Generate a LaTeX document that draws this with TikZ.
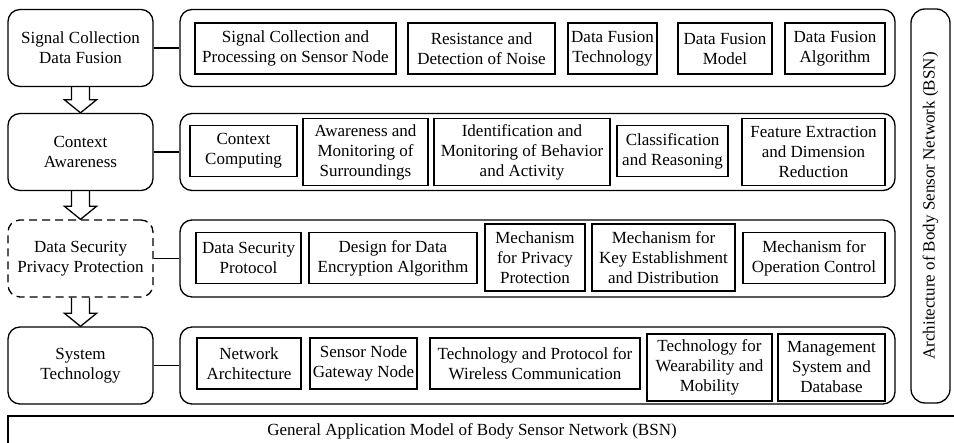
\documentclass[tikz,border=0pt]{standalone}
\usepackage{fontspec}
\setmainfont{Liberation Serif}
\usetikzlibrary{calc}

\tikzset{
    layer/.style={draw, rounded corners=12pt, line width=1.3pt, minimum width=145pt, minimum height=77pt, align=center},
    band/.style={draw, rounded corners=12pt, line width=1.3pt, minimum width=715pt, minimum height=77pt},
    topic/.style={draw, line width=1.1pt, minimum height=51pt, inner sep=2pt, align=center},
    tall/.style={minimum height=67pt},
    hollow/.style={line width=1.3pt, line join=miter},
}

\begin{document}
\begin{tikzpicture}[x=1pt, y=-1pt, font=\fontsize{17}{20}\selectfont]
    \useasboundingbox (0,0) rectangle (954,443);

    % Layers on the left
    \node[layer] (sig) at (80.5,48) {Signal Collection\\Data Fusion};
    \node[layer] (ctx) at (80.5,152) {Context\\Awareness};
    \node[layer, dash pattern=on 8pt off 5pt] (sec) at (80.5,258.5) {Data Security\\Privacy Protection};
    \node[layer] (sys) at (80.5,365.5) {System\\Technology};

    % Bands with the topics
    \node[band] (bandA) at (537.5,48) {};
    \node[band] (bandB) at (537.5,152) {};
    \node[band] (bandC) at (537.5,258.5) {};
    \node[band] (bandD) at (537.5,365.5) {};

    \foreach \l/\b in {sig/bandA, ctx/bandB, sec/bandC, sys/bandD} {
        \draw[line width=1.3pt] (\l.east) -- (\b.west);
    }

    % Hollow arrows between the layers
    \foreach \a/\b in {sig/ctx, ctx/sec, sec/sys} {
        \draw[hollow] ($(\a.south)+(-9,0)$) -- ($(\b.north)+(-9,-13)$) -- ($(\b.north)+(-16,-13)$)
            -- (\b.north) -- ($(\b.north)+(16,-13)$) -- ($(\b.north)+(9,-13)$) -- ($(\a.south)+(9,0)$);
    }

    % Row 1
    \node[topic, minimum width=201pt] (a1) at (295.5,48.5) {Signal Collection and\\Processing on Sensor Node};
    \node[topic, minimum width=147pt] (a2) at (481.5,48.5) {Resistance and\\Detection of Noise};
    \node[topic, minimum width=89pt] (a3) at (612.5,48.5) {Data Fusion\\Technology};
    \node[topic, minimum width=94pt] (a4) at (725,48.5) {Data Fusion\\Model};
    \node[topic, minimum width=100pt] (a5) at (835,48.5) {Data Fusion\\Algorithm};

    % Row 2
    \node[topic, minimum width=107pt] (b1) at (243.5,151) {Context\\Computing};
    \node[topic, tall, minimum width=125pt] (b2) at (365.5,152) {Awareness and\\Monitoring of\\Surroundings};
    \node[topic, tall, minimum width=176pt] (b3) at (522,152) {Identification and\\Monitoring of Behavior\\and Activity};
    \node[topic, minimum width=111pt] (b4) at (672.5,151) {Classification\\and Reasoning};
    \node[topic, tall, minimum width=143pt] (b5) at (813.5,152) {Feature Extraction\\and Dimension\\Reduction};

    % Row 3
    \node[topic, minimum width=105pt] (c1) at (248.5,258) {Data Security\\Protocol};
    \node[topic, minimum width=168pt] (c2) at (393,258) {Design for Data\\Encryption Algorithm};
    \node[topic, tall, minimum width=100pt] (c3) at (535,257.5) {Mechanism\\for Privacy\\Protection};
    \node[topic, tall, minimum width=143pt] (c4) at (663.5,257.5) {Mechanism for\\Key Establishment\\and Distribution};
    \node[topic, minimum width=142pt] (c5) at (814,258) {Mechanism for\\Operation Control};

    % Row 4
    \node[topic, minimum width=104pt] (d1) at (249,363.5) {Network\\Architecture};
    \node[topic, minimum width=107pt] (d2) at (363.5,363.5) {Sensor Node\\Gateway Node};
    \node[topic, minimum width=210pt] (d3) at (535,363.5) {Technology and Protocol for\\Wireless Communication};
    \node[topic, tall, minimum width=125pt] (d4) at (709.5,367.5) {Technology for\\Wearability and\\Mobility};
    \node[topic, tall, minimum width=107pt] (d5) at (831.5,367.5) {Management\\System and\\Database};

    % Architecture on the right
    \node[draw, rounded corners=14pt, line width=1.3pt, rotate=90, minimum width=394pt, minimum height=39pt] (arch)
        at (930.5,206) {Architecture of Body Sensor Network (BSN)};

    % Application model at the bottom
    \draw[line width=1.3pt] (8,450) |- (960,416);
    \node (gam) at (472,431) {General Application Model of Body Sensor Network (BSN)};
\end{tikzpicture}
\end{document}
